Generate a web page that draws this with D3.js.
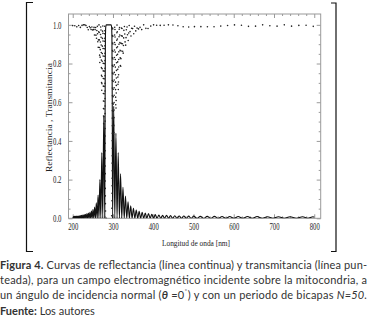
<!DOCTYPE html>
<html>
<head>
<meta charset="utf-8">
<script src="https://cdn.jsdelivr.net/npm/d3@7"></script>
<style>
html, body { margin: 0; padding: 0; background: #fff; }
svg { display: block; }
</style>
</head>
<body>
<div id="chart"></div>
<script>
// reflectance: sidelobe maxima, zeros between them, and the stop band
const leftPeakWave = [201.9, 204.5, 207.2, 210.0, 212.9, 215.8, 218.8, 221.9, 225.1, 228.4, 231.8, 235.3,
  238.9, 242.6, 246.4, 250.3, 254.4, 258.6, 263.0, 267.5, 272.2, 277.1];
const leftPeakValue = [0.009, 0.010, 0.010, 0.011, 0.012, 0.013, 0.014, 0.015, 0.017, 0.019, 0.021, 0.024,
  0.027, 0.031, 0.037, 0.045, 0.058, 0.08, 0.12, 0.2, 0.34, 0.53];
const leftZeroWave = [200.6, 203.2, 205.8, 208.6, 211.4, 214.3, 217.3, 220.3, 223.5, 226.7, 230.1, 233.5,
  237.1, 240.7, 244.5, 248.3, 252.3, 256.5, 260.8, 265.2, 269.8, 274.6, 279.6];

const bandWave = [280.5, 281.2, 282.1, 283.5, 289.0, 295.2, 296.5, 297.4, 298.2];
const bandValue = [0.6, 0.93, 0.99, 1.0, 1.0, 1.0, 0.99, 0.93, 0.6];

const rightPeakWave = [301.8, 307.3, 313.0, 318.8, 324.8, 331.0, 337.4, 344.0, 350.8, 357.8, 365.0, 372.5,
  380.2, 388.2, 396.5, 405.0, 414.0, 423.3, 433.0, 443.0, 453.5, 464.5, 476.0, 488.0, 500.5, 517, 534,
  552, 571, 590, 611, 634, 658, 684, 711, 740, 771, 797];
const rightPeakValue = [0.58, 0.44, 0.34, 0.23, 0.16, 0.115, 0.085, 0.065, 0.052, 0.043, 0.036, 0.031,
  0.027, 0.024, 0.021, 0.019, 0.017, 0.016, 0.015, 0.014, 0.013, 0.012, 0.012, 0.011, 0.011, 0.010, 0.010,
  0.010, 0.009, 0.009, 0.009, 0.009, 0.009, 0.008, 0.008, 0.008, 0.008, 0.008];
const rightZeroWave = [299.0, 304.5, 310.1, 315.9, 321.8, 327.9, 334.2, 340.7, 347.4, 354.3, 361.4, 368.7,
  376.3, 384.2, 392.3, 400.7, 409.5, 418.6, 428.1, 438.0, 448.2, 459.0, 470.2, 482.0, 494.2, 508.5, 525.5,
  543, 561.5, 580.5, 600.5, 622.5, 646, 671, 697.5, 725.5, 755.5, 784];

const endWave = [200, 800];
const endValue = [0.004, 0.006];

const xMajor = [200, 300, 400, 500, 600, 700, 800];
const yMajor = [0, 0.2, 0.4, 0.6, 0.8, 1.0];

const yTitle = "Reflectancia , Transmitancia";
const xTitle = "Longitud de onda [nm]";

const W = 370, H = 332;
const frame = { left: 68.5, right: 320.7, top: 14, bottom: 218.3 };

const svg = d3.select("#chart").append("svg")
  .attr("width", W).attr("height", H);

const x = d3.scaleLinear().domain([189.5, 816]).range([frame.left, frame.right]);
const y = d3.scaleLinear().domain([0, 1.056]).range([frame.bottom, frame.top]);

// put the reflectance points together
let rData = [];
leftPeakWave.forEach((w, i) => rData.push([w, leftPeakValue[i]]));
leftZeroWave.forEach(w => rData.push([w, 0]));
bandWave.forEach((w, i) => rData.push([w, bandValue[i]]));
rightPeakWave.forEach((w, i) => rData.push([w, rightPeakValue[i]]));
rightZeroWave.forEach(w => rData.push([w, 0]));
endWave.forEach((w, i) => rData.push([w, endValue[i]]));
rData.sort((a, b) => a[0] - b[0]);
const tData = rData.map(d => [d[0], 1 - d[1]]);

svg.append("clipPath").attr("id", "clip")
  .append("rect")
  .attr("x", frame.left).attr("y", frame.top - 2)
  .attr("width", frame.right - frame.left).attr("height", frame.bottom - frame.top + 2);

const line = d3.line().x(d => x(d[0])).y(d => y(d[1])).curve(d3.curveMonotoneX);

// frame + ticks
const gray = "#9a9a9a";
svg.append("rect")
  .attr("x", frame.left).attr("y", frame.top)
  .attr("width", frame.right - frame.left).attr("height", frame.bottom - frame.top)
  .attr("fill", "none").attr("stroke", gray).attr("stroke-width", 1);

const xMinor = d3.range(200, 801, 20).filter(v => v % 100 !== 0);
const yMinor = d3.range(0.05, 1.04, 0.05).filter(v => Math.abs(v * 5 - Math.round(v * 5)) > 0.01);

function frameAxis(axis, tr, size, vals, labels) {
  const g = svg.append("g").attr("transform", tr)
    .call(axis.tickValues(vals).tickSize(size).tickSizeOuter(0).tickFormat(labels ? null : ""));
  g.select(".domain").remove();
  g.selectAll("line").attr("stroke", gray);
  return g;
}

const xb = frameAxis(d3.axisBottom(x).tickPadding(4.5), `translate(0,${frame.bottom})`, -4, xMajor, true);
xb.selectAll("text")
  .attr("font-family", "Liberation Serif, serif").attr("font-size", 9.5).attr("fill", "#222")
  .attr("textLength", 10).attr("lengthAdjust", "spacingAndGlyphs");
frameAxis(d3.axisBottom(x), `translate(0,${frame.bottom})`, -2, xMinor, false);
frameAxis(d3.axisTop(x), `translate(0,${frame.top})`, -4, xMajor, false);
frameAxis(d3.axisTop(x), `translate(0,${frame.top})`, -2, xMinor, false);

const yl = frameAxis(d3.axisLeft(y).tickPadding(7), `translate(${frame.left},0)`, -4, yMajor, true);
yl.selectAll("text")
  .text(d => d3.format(".1f")(d))
  .attr("font-family", "Liberation Serif, serif").attr("font-size", 10).attr("fill", "#222")
  .attr("textLength", 8.5).attr("lengthAdjust", "spacingAndGlyphs");
frameAxis(d3.axisLeft(y), `translate(${frame.left},0)`, -2, yMinor, false);
frameAxis(d3.axisRight(y), `translate(${frame.right},0)`, -4, yMajor, false);
frameAxis(d3.axisRight(y), `translate(${frame.right},0)`, -2, yMinor, false);

// curves
const plot = svg.append("g").attr("clip-path", "url(#clip)");
plot.append("path").datum(rData)
  .attr("d", line)
  .attr("fill", "none").attr("stroke", "#111").attr("stroke-width", 1.1);
plot.append("path").datum(tData)
  .attr("d", line)
  .attr("fill", "none").attr("stroke", "#222").attr("stroke-width", 1.6)
  .attr("stroke-linecap", "round").attr("stroke-dasharray", "0,7.5");

// axis titles
svg.append("text")
  .attr("transform", "translate(51.5,117.5) rotate(-90)")
  .attr("text-anchor", "middle")
  .attr("font-family", "Liberation Serif, serif").attr("font-size", 9).attr("fill", "#222")
  .attr("textLength", 109).attr("lengthAdjust", "spacingAndGlyphs")
  .text(yTitle);
svg.append("text")
  .attr("x", 196).attr("y", 246)
  .attr("text-anchor", "middle")
  .attr("font-family", "Liberation Serif, serif").attr("font-size", 9).attr("fill", "#222")
  .attr("textLength", 68).attr("lengthAdjust", "spacingAndGlyphs")
  .text(xTitle);

// brackets around the figure
const bracket = [
  [[33, 2.5], [26.5, 2.5], [26.5, 251.5], [33, 251.5]],
  [[331, 3], [336, 3], [336, 251.5], [331, 251.5]]
];
bracket.forEach(pts => svg.append("path")
  .attr("d", d3.line()(pts))
  .attr("fill", "none").attr("stroke", "#111").attr("stroke-width", 1.2));

// caption
const cap = svg.append("g")
  .attr("font-family", "Lato, 'Open Sans', sans-serif").attr("font-size", 11).attr("fill", "#333");

const l1 = cap.append("text").attr("x", 0).attr("y", 269)
  .attr("textLength", 367).attr("lengthAdjust", "spacing");
l1.append("tspan").attr("font-weight", "bold").text("Figura 4.");
l1.append("tspan").text(" Curvas de reflectancia (línea continua) y transmitancia (línea pun-");

cap.append("text").attr("x", 0).attr("y", 284)
  .attr("textLength", 367).attr("lengthAdjust", "spacing")
  .text("teada), para un campo electromagnético incidente sobre la mitocondria, a");

const l3 = cap.append("text").attr("x", 0).attr("y", 299)
  .attr("textLength", 367).attr("lengthAdjust", "spacing");
l3.append("tspan").text("un ángulo de incidencia normal (");
l3.append("tspan").attr("font-style", "italic").attr("font-weight", "bold").text("θ");
l3.append("tspan").text(" =0");
l3.append("tspan").attr("font-size", 8).attr("dy", -4).text("˚");
l3.append("tspan").attr("dy", 4).text(") y con un periodo de bicapas ");
l3.append("tspan").attr("font-style", "italic").text("N=50.");

const l4 = cap.append("text").attr("x", 0).attr("y", 315);
l4.append("tspan").attr("font-weight", "bold").text("Fuente:");
l4.append("tspan").text(" Los autores");
</script>
</body>
</html>
